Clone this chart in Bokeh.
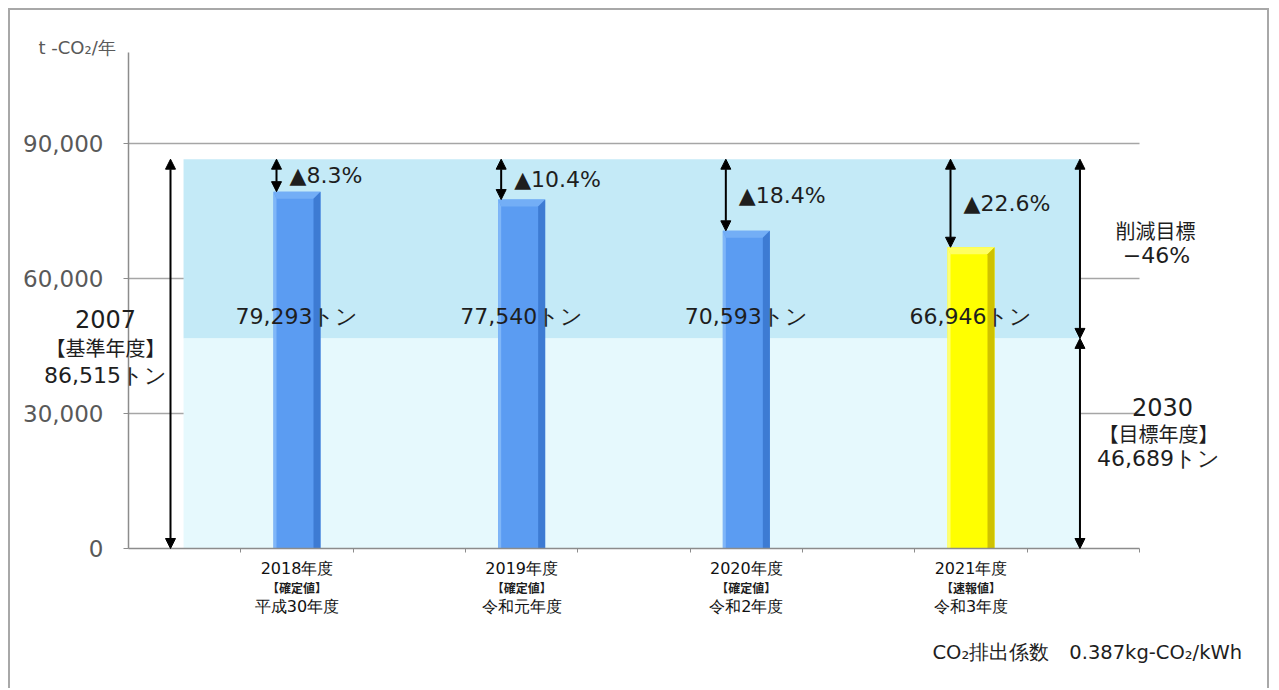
from bokeh.plotting import figure
from bokeh.models import (ColumnDataSource, Range1d, FixedTicker, NumeralTickFormatter,
                          Arrow, NormalHead, Label)
from bokeh.core.properties import value
from bokeh.embed import file_html
from bokeh.resources import INLINE

# --- data -------------------------------------------------------------
years = ["2018年度", "2019年度", "2020年度", "2021年度"]
status = ["【確定値】", "【確定値】", "【確定値】", "【速報値】"]
eras = ["平成30年度", "令和元年度", "令和2年度", "令和3年度"]
emissions = [79293, 77540, 70593, 66946]          # t-CO2 / year
preliminary = [False, False, False, True]
bar_slots = [1, 3, 5, 7]                           # slot index on a 9-slot axis
n_slots = 9

base_year = "2007"
base_label = "【基準年度】"
base_value = 86515
target_year = "2030"
target_label = "【目標年度】"
target_value = 46689
target_title = "削減目標"

y_ticks = [0, 30000, 60000, 90000]
unit_label = "t -CO₂/年"
footnote = "CO₂排出係数　0.387kg-CO₂/kWh"

# --- page geometry ------------------------------------------------------
# The frame fills the whole canvas; both axes sit at fixed data locations,
# so text can be placed anywhere on the canvas in data coordinates.
OX, OY, W, H = 10, 10, 1261, 680        # canvas position / size on the page
AX_L, AX_R = 128, 1139                  # page x of slot 0 and slot 9
Y0, Y90 = 548, 143                      # page y of 0 and 90,000
AX_TOP = 52                             # page y where the value axis ends
PX_X = (AX_R - AX_L) / n_slots
PX_Y = (Y0 - Y90) / 90000


def sx(px):
    return (px - AX_L) / PX_X


def sy(py):
    return (Y0 - py) / PX_Y


def dx(px):
    return px / PX_X


def dy(px):
    return px / PX_Y


LATIN = "DejaVu Sans"
CJK = "Noto Sans CJK JP"
TXT = "#1e1e1e"
GRAY = "#595959"
AXIS = "#8c8c8c"

p = figure(width=W, height=H, output_backend="svg", toolbar_location=None,
           x_range=Range1d(sx(OX), sx(OX + W)), y_range=Range1d(sy(OY + H), sy(OY)),
           min_border=0)
p.margin = (8, 0, 0, 8)
p.styles = {"border-top": "2px solid #a8a8a8", "border-left": "2px solid #a8a8a8",
            "border-right": "2px solid #a8a8a8"}
p.outline_line_color = None
p.background_fill_color = "white"
p.border_fill_color = "white"

# axes
p.yaxis.fixed_location = 0
p.yaxis.bounds = (0, sy(AX_TOP))
p.yaxis.ticker = FixedTicker(ticks=y_ticks)
p.yaxis.formatter = NumeralTickFormatter(format="0,0")
p.yaxis.major_label_text_font = LATIN
p.yaxis.major_label_text_font_size = "23px"
p.yaxis.major_label_text_color = GRAY
p.yaxis.major_label_standoff = 20
p.yaxis.major_tick_out = 5
p.yaxis.major_tick_in = 0
p.yaxis.minor_tick_line_color = None
p.yaxis.axis_line_color = AXIS
p.yaxis.axis_line_width = 1.5
p.yaxis.major_tick_line_color = AXIS

slot_edges = list(range(1, n_slots + 1))
p.xaxis.fixed_location = 0
p.xaxis.bounds = (0, n_slots)
p.xaxis.ticker = FixedTicker(ticks=slot_edges)
p.xaxis.major_label_overrides = {e: "" for e in slot_edges}
p.xaxis.major_tick_out = 4
p.xaxis.major_tick_in = 0
p.xaxis.minor_tick_line_color = None
p.xaxis.axis_line_color = AXIS
p.xaxis.axis_line_width = 1.5
p.xaxis.major_tick_line_color = AXIS

p.xgrid.visible = False
p.ygrid.visible = False

# horizontal grid lines across the plotting width
grid_y = [t for t in y_ticks if t > 0]
p.segment(x0=[0] * len(grid_y), x1=[n_slots] * len(grid_y), y0=grid_y, y1=grid_y,
          line_color="#a6a6a6", line_width=1.5)

# shaded bands: reduction band above the target, target band below it
band_left, band_right = 0.49, 8.47
p.quad(left=[band_left], right=[band_right], bottom=[target_value], top=[base_value],
       fill_color="#c4eaf7", line_color=None)
p.quad(left=[band_left], right=[band_right], bottom=[0], top=[target_value],
       fill_color="#e6f9fd", line_color=None)

# bevelled bars
centers = [s + 0.5 for s in bar_slots]
hw = dx(23.5)
bl, br, bh = dx(3), dx(7), dy(7)
face = ["#ffff00" if pr else "#5b9cf2" for pr in preliminary]
left_c = ["#ffff70" if pr else "#7fb6f8" for pr in preliminary]
top_c = ["#ffff60" if pr else "#73aef6" for pr in preliminary]
right_c = ["#cfc200" if pr else "#3d7bd3" for pr in preliminary]

p.quad(left=[c - hw for c in centers], right=[c + hw for c in centers],
       bottom=0, top=emissions, fill_color=face, line_color=None)
p.patches(xs=[[c - hw, c - hw, c - hw + bl, c - hw + bl] for c in centers],
          ys=[[0, v, v - bh, 0] for v in emissions], fill_color=left_c, line_color=None)
p.patches(xs=[[c - hw, c + hw, c + hw - br, c - hw + bl] for c in centers],
          ys=[[v, v, v - bh, v - bh] for v in emissions], fill_color=top_c, line_color=None)
p.patches(xs=[[c + hw, c + hw, c + hw - br, c + hw - br] for c in centers],
          ys=[[v, 0, 0, v - bh] for v in emissions], fill_color=right_c, line_color=None)

# value labels inside the band
p.text(x=centers, y=[sy(316)] * len(centers),
       text=[f"{v:,}トン" for v in emissions],
       text_font=value(LATIN), text_font_size="22px", text_color=TXT,
       text_align="center", text_baseline="middle")


def head():
    return NormalHead(size=10, fill_color="black", line_color="black")


# reduction arrows from the base-year level down to each bar
arrow_x = [c - dx(20.5) for c in centers]
red_src = ColumnDataSource(dict(x=arrow_x, y0=[base_value] * len(centers), y1=emissions))
p.add_layout(Arrow(source=red_src, x_start="x", y_start="y0", x_end="x", y_end="y1",
                   start=head(), end=head(), line_width=2, line_color="black"))
pct = [f"▲{(base_value - v) / base_value * 100:.1f}%" for v in emissions]
p.text(x=arrow_x, y=[(base_value + v) / 2 for v in emissions], text=pct,
       x_offset=13, text_font=value(LATIN), text_font_size="22px", text_color=TXT,
       text_align="left", text_baseline="middle")


# base-year span on the left, target spans on the right
def span(x, y0, y1):
    p.add_layout(Arrow(x_start=x, y_start=y0, x_end=x, y_end=y1, start=head(), end=head(),
                       line_width=2, line_color="black"))


span(sx(170), 0, base_value)
span(band_right, target_value, base_value)
span(band_right, 0, target_value)


def label(x, y, text, size, font=LATIN, color=TXT, align="center", weight="normal"):
    p.add_layout(Label(x=x, y=y, text=text, text_font=font, text_font_size=size,
                       text_color=color, text_align=align, text_baseline="middle",
                       text_font_style=weight))


left_x = sx(105)
label(left_x, sy(318), base_year, "24px")
label(left_x, sy(347), base_label, "20px", font=CJK)
label(left_x, sy(375), f"{base_value:,}トン", "22px")

right_x = sx(1158)
cut = round((base_value - target_value) / base_value * 100)
label(sx(1155), sy(230), target_title, "20px", font=CJK)
label(sx(1156), sy(255), f"−{cut}%", "22px")
label(sx(1162), sy(406), target_year, "24px")
label(right_x, sy(433), target_label, "20px", font=CJK)
label(right_x, sy(458), f"{target_value:,}トン", "22px")

# category labels under each bar
for c, yr, st, er in zip(centers, years, status, eras):
    label(c, sy(568), yr, "16px", color="#111111")
    label(c, sy(587), st, "12px", font=CJK, weight="bold")
    label(c, sy(606), er, "16px", color="#111111")

label(sx(38), sy(47), unit_label, "18px", color=GRAY, align="left")
label(sx(932), sy(652), footnote, "19.5px", align="left")

open("out.html", "w").write(file_html(p, INLINE, title="CO2排出量の推移"))
